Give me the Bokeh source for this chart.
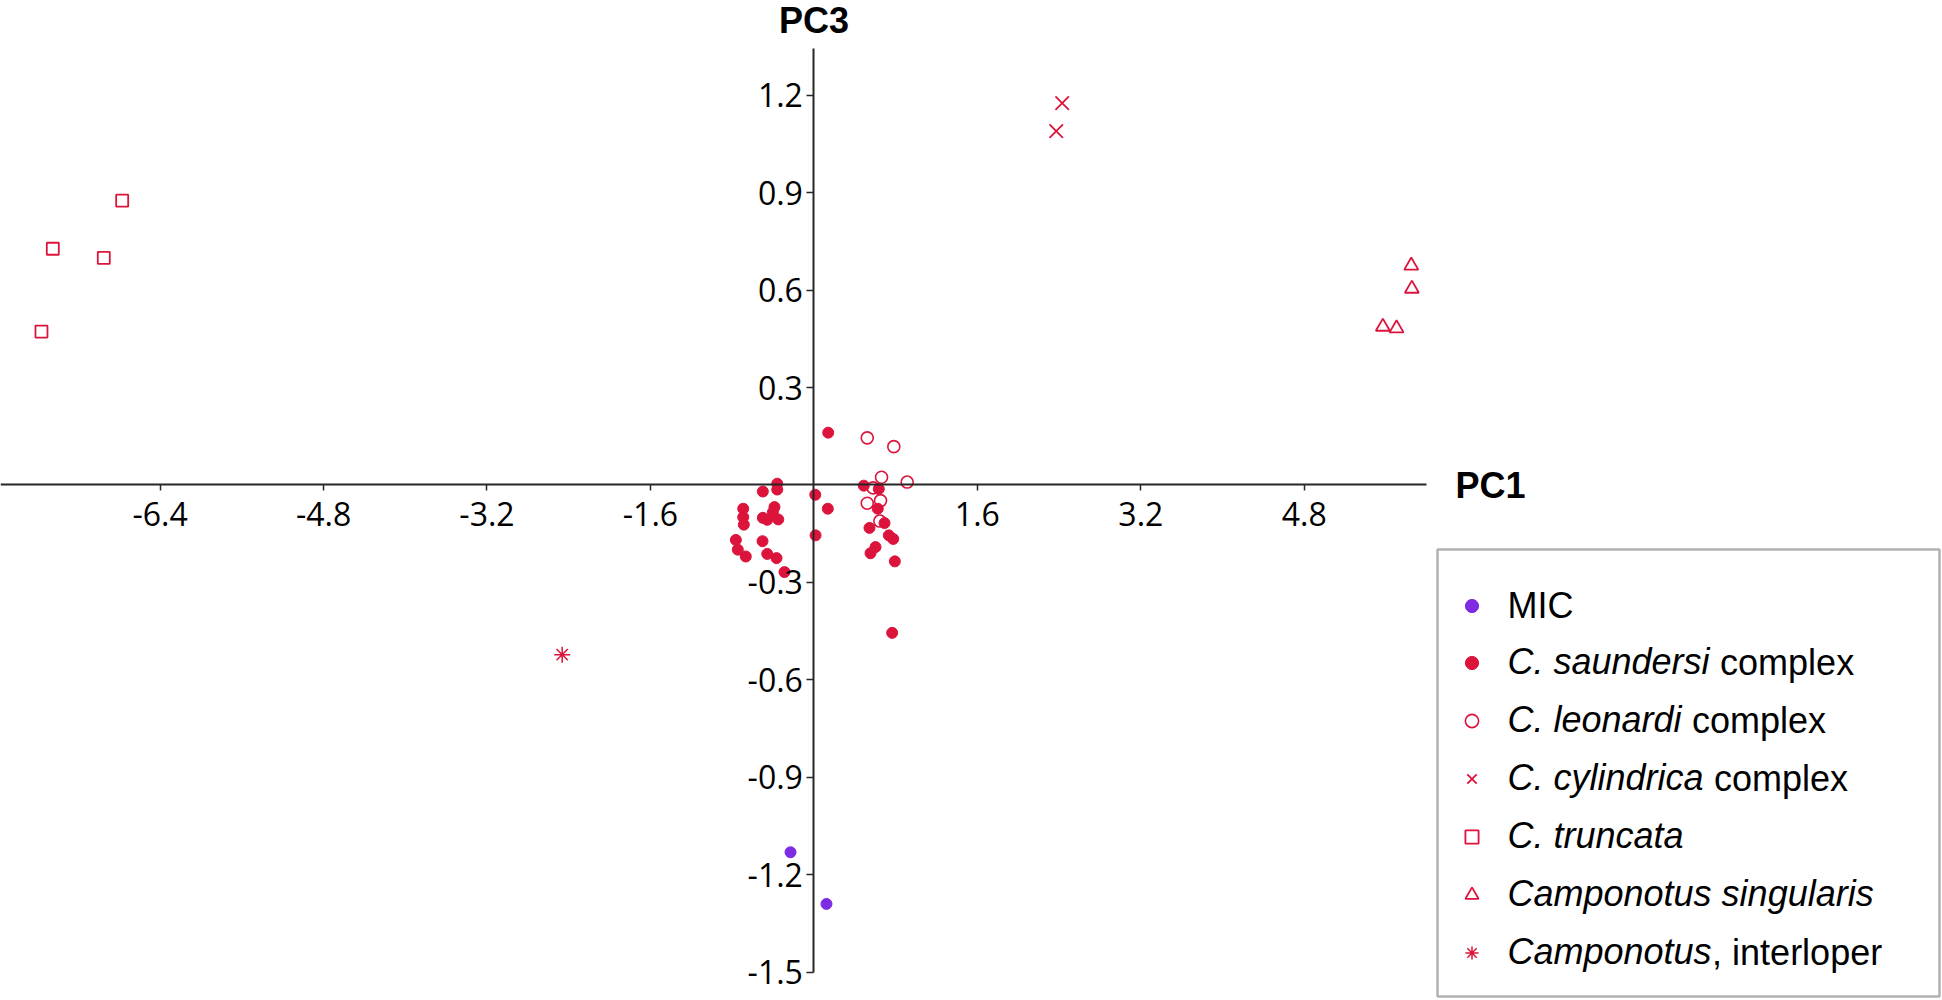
from bokeh.plotting import figure
from bokeh.models import (Range1d, FixedTicker, Legend, LegendItem, Label, BoxAnnotation,
                          CustomJSTickFormatter)
from bokeh.embed import file_html
from bokeh.resources import INLINE

# ---------------- data (PC1, PC3 scores) ----------------
mic_x = [-0.229, 0.123]
mic_y = [-1.130, -1.289]

saundersi_x = [0.140, -0.359, -0.359, -0.500, 0.013, -0.692, -0.692, -0.686, -0.386, -0.402,
               -0.500, -0.457, -0.349, 0.136, 0.016, -0.764, -0.745, -0.667, -0.503, -0.457,
               -0.366, -0.288, 0.488, 0.635, 0.625, 0.544, 0.691, 0.733, 0.776, 0.603,
               0.554, 0.792, 0.766]
saundersi_y = [0.161, 0.004, -0.014, -0.020, -0.030, -0.073, -0.099, -0.122, -0.068, -0.084,
               -0.101, -0.107, -0.106, -0.073, -0.155, -0.169, -0.199, -0.220, -0.173, -0.212,
               -0.225, -0.268, -0.002, -0.012, -0.073, -0.132, -0.117, -0.155, -0.166, -0.191,
               -0.210, -0.235, -0.455]

leonardi_x = [0.522, 0.782, 0.662, 0.913, 0.580, 0.652, 0.522, 0.645]
leonardi_y = [0.145, 0.118, 0.024, 0.009, -0.009, -0.048, -0.056, -0.111]

cylindrica_x = [2.430, 2.372]
cylindrica_y = [1.175, 1.089]

truncata_x = [-6.771, -7.450, -6.951, -7.561]
truncata_y = [0.875, 0.727, 0.699, 0.472]

singularis_x = [5.847, 5.853, 5.569, 5.703]
singularis_y = [0.675, 0.604, 0.487, 0.482]

interloper_x = [-2.464]
interloper_y = [-0.522]

x_ticks = [-6.4, -4.8, -3.2, -1.6, 1.6, 3.2, 4.8]
y_ticks = [-1.5, -1.2, -0.9, -0.6, -0.3, 0.3, 0.6, 0.9, 1.2]

legend_italic = ["C. saundersi", "C. leonardi", "C. cylindrica", "C. truncata",
                 "Camponotus singularis", "Camponotus"]
legend_suffix = ["complex", "complex", "complex", "", "", ", interloper"]

# ---------------- styling ----------------
RED = "#dc143c"
PURPLE = "#7f2be3"
AXIS = "#262626"
W, H = 1942, 1000

p = figure(width=W, height=H, output_backend="svg", toolbar_location=None,
           x_range=Range1d(-7.962, 11.047), y_range=Range1d(-1.5862, 1.4908),
           min_border=0, min_border_left=0, min_border_right=0,
           min_border_top=0, min_border_bottom=0)
p.outline_line_color = None
p.grid.visible = False
p.background_fill_color = "white"

fmt = CustomJSTickFormatter(code="return tick.toFixed(1);")
for ax in (p.xaxis[0], p.yaxis[0]):
    ax.fixed_location = 0
    ax.axis_line_color = AXIS
    ax.axis_line_width = 2
    ax.major_tick_line_color = AXIS
    ax.major_tick_line_width = 1.5
    ax.major_tick_in = 0
    ax.minor_tick_line_color = None
    ax.major_label_text_font = "Open Sans"
    ax.major_label_text_font_size = "32px"
    ax.major_label_text_color = "black"
    ax.formatter = fmt

p.xaxis[0].ticker = FixedTicker(ticks=x_ticks)
p.xaxis[0].bounds = (-7.962, 6.0)
p.xaxis[0].major_tick_out = 6
p.xaxis[0].major_label_standoff = 11

p.yaxis[0].ticker = FixedTicker(ticks=y_ticks)
p.yaxis[0].bounds = (-1.5, 1.343)
p.yaxis[0].major_tick_out = 7
p.yaxis[0].major_label_standoff = 4

r_mic = p.scatter(mic_x, mic_y, marker="circle", size=11, fill_color=PURPLE, line_color=PURPLE)
r_sau = p.scatter(saundersi_x, saundersi_y, marker="circle", size=11, fill_color=RED, line_color=RED)
r_leo = p.scatter(leonardi_x, leonardi_y, marker="circle", size=12, fill_color=None,
                  line_color=RED, line_width=1.6)
r_cyl = p.scatter(cylindrica_x, cylindrica_y, marker="x", size=19, line_color=RED, line_width=1.8)
r_tru = p.scatter(truncata_x, truncata_y, marker="square", size=12, fill_color=None,
                  line_color=RED, line_width=1.8)
r_sin = p.scatter(singularis_x, singularis_y, marker="triangle", size=14, fill_color=None,
                  line_color=RED, line_width=1.8)
r_int = p.scatter(interloper_x, interloper_y, marker="asterisk", size=16, line_color=RED,
                  line_width=1.5)

# ---------------- axis titles ----------------
p.add_layout(Label(x=0, y=H - 20.0, x_units="data", y_units="screen", text="PC3",
                   text_font="Liberation Sans", text_font_style="bold",
                   text_font_size="36px", text_align="center", text_baseline="alphabetic",
                   text_color="black"))
p.add_layout(Label(x=1455, y=H - 484.5, x_units="screen", y_units="screen", text="PC1",
                   text_font="Liberation Sans", text_font_style="bold",
                   text_font_size="36px", text_align="left", text_baseline="alphabetic",
                   text_color="black"))

# ---------------- legend ----------------
FS = 36
AW = {" ": 278, ".": 278, ",": 278, "C": 722, "a": 556, "c": 500, "d": 556, "e": 556,
      "g": 556, "i": 222, "l": 222, "m": 833, "n": 556, "o": 556, "p": 556, "r": 333,
      "s": 500, "t": 278, "u": 556, "y": 500}


def tw(s, fs=FS):
    return sum(AW.get(c, 556) for c in s) * fs / 1000.0


glyph_x = 1454.5
glyph_w = 33
standoff = 20
text_x = glyph_x + glyph_w + standoff
item_h = 44
row0 = 605.7
step = 58

leg_common = dict(padding=0, margin=0, spacing=step - item_h, glyph_width=glyph_w,
                  glyph_height=glyph_w, label_height=item_h, label_standoff=standoff,
                  label_text_font="Liberation Sans", label_text_font_size=f"{FS}px",
                  label_text_color="black", border_line_color=None,
                  background_fill_alpha=0, orientation="vertical")

leg_a = Legend(items=[LegendItem(label="MIC", renderers=[r_mic])],
               location=(glyph_x, H - (row0 + item_h / 2)), **leg_common)
p.add_layout(leg_a)

row1 = 662.3
rend_b = [r_sau, r_leo, r_cyl, r_tru, r_sin, r_int]
top_b = row1 - item_h / 2
height_b = 6 * item_h + 5 * (step - item_h)
leg_b = Legend(items=[LegendItem(label=lab, renderers=[r]) for lab, r in zip(legend_italic, rend_b)],
               location=(glyph_x, H - (top_b + height_b)),
               label_text_font_style="italic", **leg_common)
p.add_layout(leg_b)

for i, (it, suf) in enumerate(zip(legend_italic, legend_suffix)):
    if not suf:
        continue
    cy = row1 + step * i
    if suf.startswith(","):
        sx = text_x + tw(it)
    else:
        sx = text_x + tw(it + " ")
    p.add_layout(Label(x=sx, y=H - cy, x_units="screen", y_units="screen", text=suf,
                       text_font="Liberation Sans", text_font_size=f"{FS}px",
                       text_align="left", text_baseline="middle", text_color="black"))

p.add_layout(BoxAnnotation(left=1437, right=1939, top=H - 549, bottom=H - 996,
                           left_units="screen", right_units="screen",
                           top_units="screen", bottom_units="screen",
                           fill_alpha=0, fill_color=None, line_color="black", line_width=2.5,
                           level="overlay"))

open("out.html", "w").write(file_html(p, INLINE))
